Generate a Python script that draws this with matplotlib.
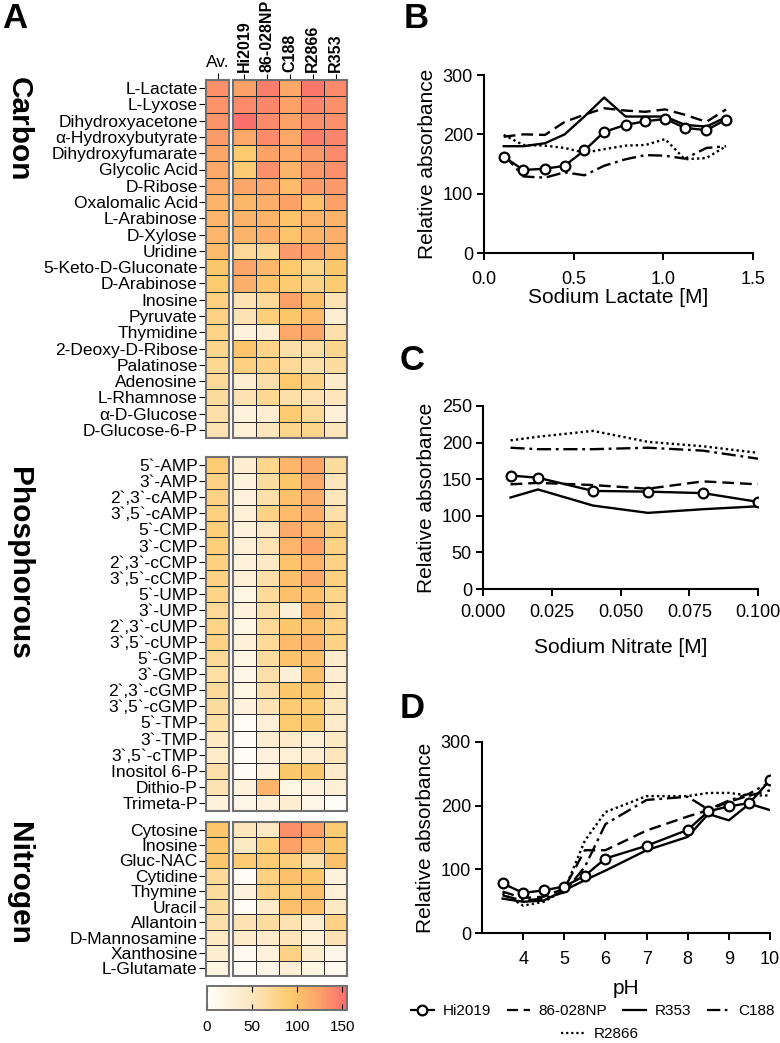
import numpy as np
import matplotlib
matplotlib.use('Agg')
import matplotlib.pyplot as plt
from matplotlib.colors import LinearSegmentedColormap
from matplotlib.lines import Line2D

plt.rcParams['font.family'] = ['Liberation Sans', 'DejaVu Sans']

# ---------------- heatmap data (A) ----------------
strains = ['Hi2019', '86-028NP', 'C188', 'R2866', 'R353']

carbon_names = ['L-Lactate', 'L-Lyxose', 'Dihydroxyacetone', 'α-Hydroxybutyrate',
                'Dihydroxyfumarate', 'Glycolic Acid', 'D-Ribose', 'Oxalomalic Acid',
                'L-Arabinose', 'D-Xylose', 'Uridine', '5-Keto-D-Gluconate', 'D-Arabinose',
                'Inosine', 'Pyruvate', 'Thymidine', '2-Deoxy-D-Ribose', 'Palatinose',
                'Adenosine', 'L-Rhamnose', 'α-D-Glucose', 'D-Glucose-6-P']
carbon_av = [135, 133, 132, 128, 122, 120, 118, 112, 110, 110, 105, 95, 92,
             82, 80, 78, 75, 72, 68, 65, 60, 55]
carbon_vals = [[125, 145, 120, 148, 138],
               [138, 140, 125, 140, 135],
               [152, 138, 125, 135, 135],
               [120, 138, 120, 145, 140],
               [92, 125, 120, 130, 138],
               [90, 135, 112, 130, 135],
               [122, 122, 105, 128, 130],
               [108, 115, 125, 100, 125],
               [112, 112, 98, 110, 112],
               [112, 115, 98, 112, 115],
               [70, 72, 128, 125, 112],
               [122, 108, 92, 78, 95],
               [115, 98, 90, 80, 90],
               [55, 70, 125, 100, 55],
               [55, 85, 95, 105, 35],
               [25, 35, 120, 122, 60],
               [98, 78, 60, 62, 75],
               [82, 80, 70, 60, 65],
               [35, 60, 92, 80, 40],
               [55, 72, 60, 55, 50],
               [25, 35, 90, 70, 30],
               [30, 50, 75, 75, 50]]

phos_names = ['5`-AMP', '3`-AMP', '2`,3`-cAMP', '3`,5`-cAMP', '5`-CMP', '3`-CMP',
              '2`,3`-cCMP', '3`,5`-cCMP', '5`-UMP', '3`-UMP', '2`,3`-cUMP', '3`,5`-cUMP',
              '5`-GMP', '3`-GMP', '2`,3`-cGMP', '3`,5`-cGMP', '5`-TMP', '3`-TMP',
              '3`,5`-cTMP', 'Inositol 6-P', 'Dithio-P', 'Trimeta-P']
phos_av = [88, 80, 80, 82, 85, 85, 82, 80, 78, 70, 78, 80, 70, 62, 68, 65,
           62, 45, 40, 60, 55, 25]
phos_vals = [[35, 75, 110, 122, 65],
             [25, 65, 95, 118, 50],
             [25, 60, 100, 115, 50],
             [30, 80, 105, 115, 60],
             [25, 45, 118, 110, 80],
             [30, 55, 110, 125, 80],
             [25, 45, 98, 110, 80],
             [30, 60, 100, 118, 82],
             [20, 68, 100, 100, 78],
             [25, 60, 30, 110, 70],
             [20, 70, 95, 100, 80],
             [28, 68, 105, 112, 80],
             [20, 65, 98, 100, 40],
             [15, 60, 30, 100, 35],
             [20, 60, 95, 95, 45],
             [25, 55, 90, 90, 50],
             [5, 30, 92, 95, 40],
             [5, 35, 40, 30, 45],
             [5, 25, 30, 35, 50],
             [5, 25, 95, 95, 40],
             [25, 110, 20, 25, 30],
             [15, 25, 35, 15, 3]]

nitro_names = ['Cytosine', 'Inosine', 'Gluc-NAC', 'Cytidine', 'Thymine', 'Uracil',
               'Allantoin', 'D-Mannosamine', 'Xanthosine', 'L-Glutamate']
nitro_av = [95, 95, 95, 68, 65, 65, 60, 45, 35, 20]
nitro_vals = [[50, 45, 135, 125, 90],
              [45, 85, 125, 110, 95],
              [90, 90, 85, 60, 100],
              [5, 82, 100, 95, 25],
              [25, 80, 90, 100, 30],
              [5, 40, 100, 100, 45],
              [55, 65, 55, 35, 80],
              [40, 40, 50, 30, 55],
              [10, 25, 80, 35, 15],
              [5, 15, 30, 20, 10]]

# ---------------- line data (B, C, D) ----------------
lactate_M = [0.11, 0.22, 0.34, 0.45, 0.56, 0.67, 0.79, 0.90, 1.01, 1.12, 1.24, 1.35]
lac_hi2019 = [162, 140, 142, 147, 173, 204, 216, 222, 226, 211, 207, 225]
lac_86028 = [196, 200, 199, 221, 233, 244, 240, 238, 242, 233, 221, 242]
lac_r353 = [180, 180, 185, 200, 230, 262, 230, 230, 230, 216, 213, 229]
lac_c188 = [166, 129, 127, 136, 131, 147, 158, 165, 164, 159, 177, 180]
lac_r2866 = [199, 182, 181, 177, 169, 175, 181, 182, 192, 158, 160, 180]

nitrate_M = [0.01, 0.02, 0.04, 0.06, 0.08, 0.10]
nit_hi2019 = [155, 152, 134, 133, 131, 119]
nit_86028 = [143, 145, 142, 137, 147, 143]
nit_r353 = [125, 136, 114, 104, 109, 113]
nit_c188 = [193, 191, 191, 193, 189, 178]
nit_r2866 = [203, 208, 216, 201, 195, 186]

ph = [3.5, 4, 4.5, 5, 5.5, 6, 7, 8, 8.5, 9, 9.5, 10]
ph_hi2019 = [78, 63, 67, 73, 90, 117, 137, 162, 191, 199, 204, 240]
ph_86028 = [65, 55, 57, 70, 130, 130, 161, 183, 193, 206, 216, 224]
ph_r353 = [54, 49, 51, 67, 83, 98, 130, 151, 187, 177, 203, 193]
ph_c188 = [59, 51, 54, 64, 104, 171, 209, 214, 194, 208, 219, 237]
ph_r2866 = [62, 43, 49, 67, 145, 190, 215, 215, 220, 220, 216, 216]

W, H = 780, 1043
fig = plt.figure(figsize=(W / 100, H / 100), dpi=100)


def ax_px(left, top, width, height):
    return fig.add_axes([left / W, 1 - (top + height) / H, width / W, height / H])


cmap = LinearSegmentedColormap.from_list(
    'wyr', [(0, '#fffefb'), (0.3, '#fde8c2'), (0.6, '#fdca6c'),
            (0.8, '#fca469'), (1, '#fb6b6d')])
VMAX = 155


def heat(ax, data):
    data = np.atleast_2d(np.array(data, dtype=float))
    m = ax.pcolormesh(data, cmap=cmap, vmin=0, vmax=VMAX,
                      edgecolors='#2a2a2a', linewidth=0.7)
    ax.set_xlim(0, data.shape[1])
    ax.set_ylim(data.shape[0], 0)
    for s in ax.spines.values():
        s.set_color('#707070')
        s.set_linewidth(1.5)
    ax.set_xticks([])
    ax.set_yticks([])
    return m


blocks = [(carbon_names, carbon_av, carbon_vals, 80, 358, 'Carbon', 129),
          (phos_names, phos_av, phos_vals, 457, 354, 'Phosphorous', 563),
          (nitro_names, nitro_av, nitro_vals, 822, 154, 'Nitrogen', 883)]

mesh = None
for i, (names, av, vals, top, h, group, gy) in enumerate(blocks):
    ax_av = ax_px(206, top, 23, h)
    heat(ax_av, np.array(av)[:, None])
    ax_av.set_yticks(np.arange(len(names)) + 0.5)
    ax_av.set_yticklabels(names, fontsize=12.5)
    ax_av.tick_params(axis='y', length=5, width=0.8, pad=1)
    ax_m = ax_px(233, top, 114, h)
    mesh = heat(ax_m, vals)
    if i == 0:
        ax_av.xaxis.tick_top()
        ax_av.set_xticks([0.5])
        ax_av.set_xticklabels(['Av.'], fontsize=12.5)
        ax_av.tick_params(axis='x', length=5, width=0.8, pad=2)
        ax_m.xaxis.tick_top()
        ax_m.set_xticks(np.arange(len(strains)) + 0.5)
        ax_m.set_xticklabels(strains, rotation=90, fontsize=11.5, fontweight='bold')
        ax_m.tick_params(axis='x', length=4, width=0.8, pad=1.5)
    fig.text(19 / W, 1 - gy / H, group, rotation=-90, fontsize=21.5,
             fontweight='bold', ha='center', va='center')

cax = ax_px(207, 986, 140, 24)
cb = fig.colorbar(mesh, cax=cax, orientation='horizontal')
cb.set_ticks([0, 50, 100, 150])
cax.tick_params(direction='in', top=True, bottom=True, length=4, width=0.8,
                labelsize=11, pad=7)
cb.outline.set_edgecolor('#707070')
cb.outline.set_linewidth(1.4)

fig.text(2 / W, 1 - 19 / H, 'A', fontsize=25, fontweight='bold', va='center')
fig.text(404 / W, 1 - 18 / H, 'B', fontsize=25, fontweight='bold', va='center')
fig.text(400 / W, 1 - 361 / H, 'C', fontsize=25, fontweight='bold', va='center')
fig.text(400 / W, 1 - 708 / H, 'D', fontsize=25, fontweight='bold', va='center')

styles = {
    'Hi2019': dict(ls='-', marker='o', ms=7, mfc='white', mec='black', mew=1.6),
    '86-028NP': dict(ls=(0, (5, 2.5))),
    'R353': dict(ls='-'),
    'C188': dict(ls=(0, (6, 2, 1.2, 2))),
    'R2866': dict(ls=(0, (1, 1.3))),
}


def line_panel(ax, x, series, xlim, ylim, yticks, xticks, xfmt, xlabel):
    for name, y in series:
        ax.plot(x, y, color='black', lw=1.7, **styles[name],
                zorder=3 if name == 'Hi2019' else 2)
    ax.set_xlim(*xlim)
    ax.set_ylim(*ylim)
    ax.set_yticks(yticks)
    ax.set_xticks(xticks)
    ax.set_xticklabels([xfmt.format(t) for t in xticks])
    ax.spines['top'].set_visible(False)
    ax.spines['right'].set_visible(False)
    for s in ('left', 'bottom'):
        ax.spines[s].set_linewidth(1.5)
    ax.tick_params(length=5, width=1.4, labelsize=13, pad=3)
    ax.tick_params(axis='x', pad=6)
    ax.set_ylabel('Relative absorbance', fontsize=15, labelpad=4)
    ax.set_xlabel(xlabel, fontsize=15, labelpad=3)


axB = ax_px(484, 75, 269, 178)
line_panel(axB, lactate_M,
           [('R2866', lac_r2866), ('C188', lac_c188), ('86-028NP', lac_86028),
            ('R353', lac_r353), ('Hi2019', lac_hi2019)],
           (0, 1.5), (0, 300), [0, 100, 200, 300], [0, 0.5, 1.0, 1.5], '{:.1f}',
           'Sodium Lactate [M]')
axB.tick_params(axis='x', pad=8)
axB.xaxis.labelpad = 0

axC = ax_px(483, 406, 275, 183)
line_panel(axC, nitrate_M,
           [('R2866', nit_r2866), ('C188', nit_c188), ('86-028NP', nit_86028),
            ('R353', nit_r353), ('Hi2019', nit_hi2019)],
           (0, 0.1), (0, 250), [0, 50, 100, 150, 200, 250],
           [0, 0.025, 0.05, 0.075, 0.1], '{:.3f}', 'Sodium Nitrate [M]')
axC.xaxis.labelpad = 12

axD = ax_px(482, 742, 288, 191)
line_panel(axD, ph,
           [('R2866', ph_r2866), ('C188', ph_c188), ('86-028NP', ph_86028),
            ('R353', ph_r353), ('Hi2019', ph_hi2019)],
           (3, 10), (0, 300), [0, 100, 200, 300], [4, 5, 6, 7, 8, 9, 10], '{:g}', 'pH')
axD.tick_params(axis='x', pad=8)
axD.xaxis.labelpad = 8


def handle(name):
    return Line2D([], [], color='black', lw=1.6, **styles[name])


top_names = ['Hi2019', '86-028NP', 'R353', 'C188']
fig.legend([handle(n) for n in top_names], top_names, ncol=4,
           loc='center', bbox_to_anchor=(593 / W, 1 - 1011 / H),
           frameon=False, fontsize=11, handlelength=1.5,
           columnspacing=1.0, handletextpad=0.6, borderpad=0.1)
fig.legend([handle('R2866')], ['R2866'], loc='center',
           bbox_to_anchor=(600 / W, 1 - 1034 / H), frameon=False,
           fontsize=11, handlelength=1.5, handletextpad=0.6, borderpad=0.1)

fig.savefig('out.png', dpi=100)
